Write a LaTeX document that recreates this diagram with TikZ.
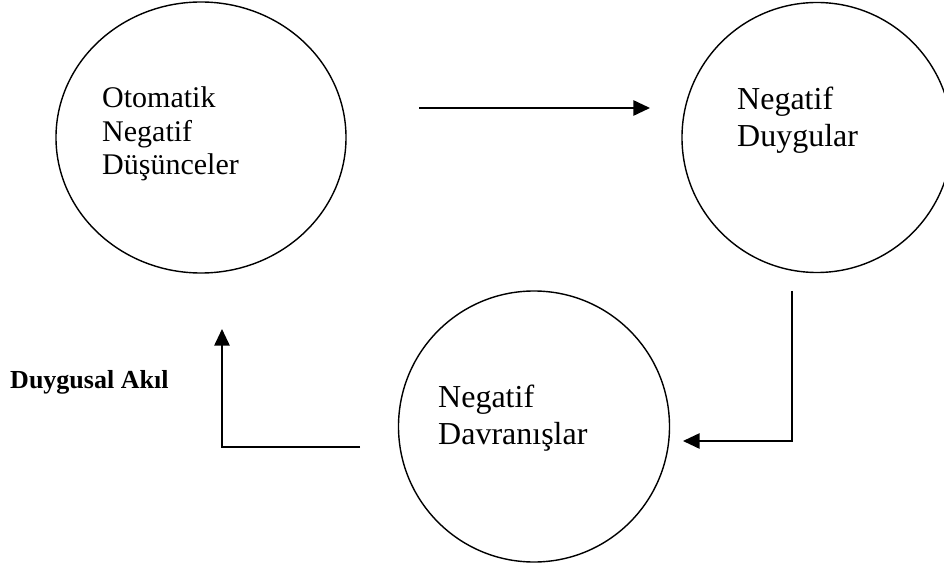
\documentclass[tikz,border=0pt]{standalone}
\usepackage{fontspec}
\setmainfont{Liberation Serif}
\usetikzlibrary{positioning, arrows.meta, shapes.geometric}

\tikzset{
  bubble/.style={draw=black, line width=1.2pt, inner sep=0pt},
  flow/.style={line width=1.5pt, -{Triangle[length=0.5cm, width=0.46cm]}},
  bubbletext/.style={align=left, inner sep=0pt, anchor=base west},
}

\begin{document}
\begin{tikzpicture}[x=0.03cm, y=-0.03cm]
\useasboundingbox (0,0) rectangle (944,569);

% the three states
\node[bubble, ellipse, minimum width=8.7cm, minimum height=8.13cm] (dusunce) at (201,137.5) {};
\node[bubble, circle, minimum size=8.1cm] (duygu) at (817,137.5) {};
\node[bubble, circle, minimum size=8.13cm] (davranis) at (534,426.5) {};

% texts (base = last line)
\node[bubbletext, font=\fontsize{25.6pt}{29pt}\selectfont] (dusuncetext) at (102,175) {Otomatik\\Negatif\\Düşünceler};
\node[bubbletext, font=\fontsize{27.3pt}{32.4pt}\selectfont] (duygutext) at (737,147) {Negatif\\Duygular};
\node[bubbletext, font=\fontsize{27.3pt}{31.5pt}\selectfont] (davranistext) at (438,444) {Negatif\\Davranışlar};

\node[font=\bfseries\fontsize{22.2pt}{26pt}\selectfont, anchor=base west, inner sep=0pt] (akil) at (10,389) {Duygusal Akıl};

% connectors
\coordinate (a1s) at (419,108);
\coordinate (a1e) at (650,108);
\coordinate (a2s) at (792,291);
\coordinate (a2e) at (683,441);
\coordinate (a3s) at (360,447);
\coordinate (a3e) at (222,329);

\draw[flow] (a1s) -- (a1e);
\draw[flow] (a2s) |- (a2e);
\draw[flow] (a3s) -| (a3e);
\end{tikzpicture}
\end{document}
